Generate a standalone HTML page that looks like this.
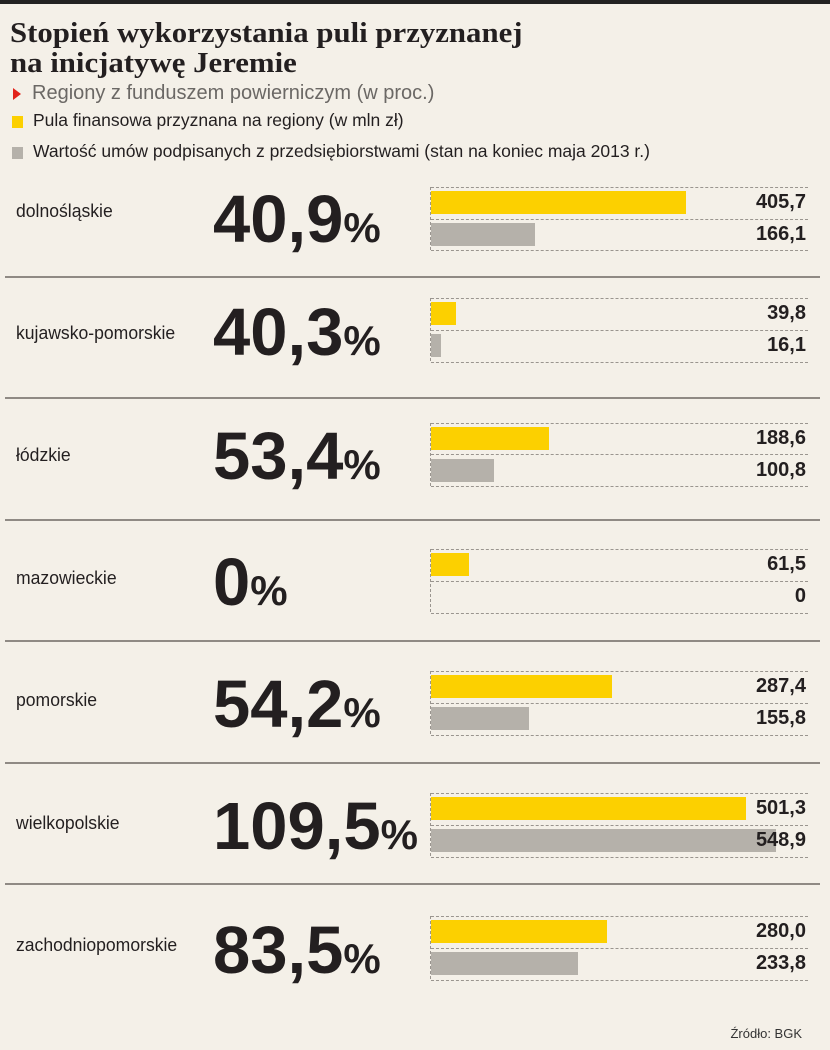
<!DOCTYPE html>
<html><head><meta charset="utf-8"><style>
body{margin:0;background:#f4f0e8;}
#c{position:relative;width:830px;height:1050px;overflow:hidden;background:#f4f0e8;font-family:"Liberation Sans",sans-serif;color:#231f20;}
.a{position:absolute;white-space:nowrap;}
.t{font-family:"Liberation Serif",serif;font-weight:bold;font-size:28px;left:10px;letter-spacing:0;line-height:30px;transform:scaleX(1.1);transform-origin:left;}
.sep{position:absolute;left:5px;width:815px;height:2px;background:#8f8a84;}
.dot{position:absolute;left:431px;width:377px;border-top:1px dashed #9a958f;height:0;}
.vl{position:absolute;left:430px;width:0;border-left:1px dashed #9a958f;height:63px;}
.y{position:absolute;left:431px;height:23px;background:#fcd000;}
.g{position:absolute;left:431px;height:23px;background:#b5b1aa;}
.v{position:absolute;right:24px;font-weight:bold;font-size:20px;}
.r{position:absolute;left:16px;font-size:18.5px;transform:scaleX(0.95);transform-origin:left;}
.p{position:absolute;left:213px;font-weight:bold;font-size:67px;letter-spacing:0;line-height:66px;}
.p span{font-size:42px;letter-spacing:0;}
</style></head><body><div id="c">
<div class="a" style="left:0;top:0;width:830px;height:4px;background:#222;"></div>
<div class="a t" style="top:19px;">Stopień wykorzystania puli przyznanej</div>
<div class="a t" style="top:49px;">na inicjatywę Jeremie</div>
<div class="a" style="left:13px;top:88px;width:0;height:0;border-left:8px solid #e2231a;border-top:6px solid transparent;border-bottom:6px solid transparent;"></div>
<div class="a" style="left:32px;top:82px;font-size:20px;color:#6b6865;">Regiony z funduszem powierniczym (w proc.)</div>
<div class="a" style="left:12px;top:116px;width:11px;height:12px;background:#fcd000;"></div>
<div class="a" style="left:33px;top:110px;font-size:17.5px;">Pula finansowa przyznana na regiony (w mln zł)</div>
<div class="a" style="left:12px;top:147px;width:11px;height:12px;background:#b5b1aa;"></div>
<div class="a" style="left:33px;top:141px;font-size:17.5px;">Wartość umów podpisanych z przedsiębiorstwami (stan na koniec maja 2013 r.)</div>

<!-- row 1 -->
<div class="r" style="top:200px;">dolnośląskie</div>
<div class="p" style="top:187px;">40,9<span>%</span></div>
<div class="dot" style="top:187px"></div><div class="dot" style="top:219px"></div><div class="dot" style="top:250px"></div><div class="vl" style="top:187px"></div>
<div class="y" style="top:191px;width:255px"></div><div class="g" style="top:223px;width:104px"></div>
<div class="v" style="top:191px">405,7</div><div class="v" style="top:223px">166,1</div>
<div class="sep" style="top:276px"></div>

<!-- row 2 -->
<div class="r" style="top:322px;">kujawsko-pomorskie</div>
<div class="p" style="top:300px;">40,3<span>%</span></div>
<div class="dot" style="top:298px"></div><div class="dot" style="top:330px"></div><div class="dot" style="top:362px"></div><div class="vl" style="top:298px"></div>
<div class="y" style="top:302px;width:25px"></div><div class="g" style="top:334px;width:10px"></div>
<div class="v" style="top:302px">39,8</div><div class="v" style="top:334px">16,1</div>
<div class="sep" style="top:397px"></div>

<!-- row 3 -->
<div class="r" style="top:444px;">łódzkie</div>
<div class="p" style="top:424px;">53,4<span>%</span></div>
<div class="dot" style="top:423px"></div><div class="dot" style="top:454px"></div><div class="dot" style="top:486px"></div><div class="vl" style="top:423px"></div>
<div class="y" style="top:427px;width:118px"></div><div class="g" style="top:459px;width:63px"></div>
<div class="v" style="top:427px">188,6</div><div class="v" style="top:459px">100,8</div>
<div class="sep" style="top:519px"></div>

<!-- row 4 -->
<div class="r" style="top:567px;">mazowieckie</div>
<div class="p" style="top:550px;">0<span>%</span></div>
<div class="dot" style="top:549px"></div><div class="dot" style="top:581px"></div><div class="dot" style="top:613px"></div><div class="vl" style="top:549px"></div>
<div class="y" style="top:553px;width:38px"></div>
<div class="v" style="top:553px">61,5</div><div class="v" style="top:585px">0</div>
<div class="sep" style="top:640px"></div>

<!-- row 5 -->
<div class="r" style="top:689px;">pomorskie</div>
<div class="p" style="top:672px;">54,2<span>%</span></div>
<div class="dot" style="top:671px"></div><div class="dot" style="top:703px"></div><div class="dot" style="top:735px"></div><div class="vl" style="top:671px"></div>
<div class="y" style="top:675px;width:181px"></div><div class="g" style="top:707px;width:98px"></div>
<div class="v" style="top:675px">287,4</div><div class="v" style="top:707px">155,8</div>
<div class="sep" style="top:762px"></div>

<!-- row 6 -->
<div class="r" style="top:812px;">wielkopolskie</div>
<div class="p" style="top:794px;">109,5<span>%</span></div>
<div class="dot" style="top:793px"></div><div class="dot" style="top:825px"></div><div class="dot" style="top:857px"></div><div class="vl" style="top:793px"></div>
<div class="y" style="top:797px;width:315px"></div><div class="g" style="top:829px;width:345px"></div>
<div class="v" style="top:797px">501,3</div><div class="v" style="top:829px">548,9</div>
<div class="sep" style="top:883px"></div>

<!-- row 7 -->
<div class="r" style="top:934px;">zachodniopomorskie</div>
<div class="p" style="top:918px;">83,5<span>%</span></div>
<div class="dot" style="top:916px"></div><div class="dot" style="top:948px"></div><div class="dot" style="top:980px"></div><div class="vl" style="top:916px"></div>
<div class="y" style="top:920px;width:176px"></div><div class="g" style="top:952px;width:147px"></div>
<div class="v" style="top:920px">280,0</div><div class="v" style="top:952px">233,8</div>

<div class="a" style="right:28px;top:1026px;font-size:13px;color:#333;">Źródło: BGK</div>
</div></body></html>
